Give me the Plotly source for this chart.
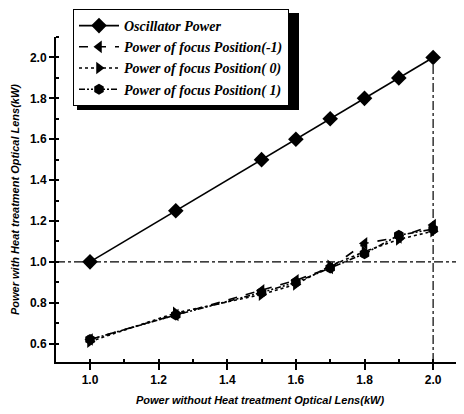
import plotly.graph_objects as go

x_vals = [1.0, 1.25, 1.5, 1.6, 1.7, 1.8, 1.9, 2.0]
oscillator = [1.0, 1.25, 1.5, 1.6, 1.7, 1.8, 1.9, 2.0]
pos_m1 = [0.62, 0.74, 0.86, 0.91, 0.97, 1.09, 1.12, 1.18]
pos_0 = [0.61, 0.75, 0.84, 0.89, 0.98, 1.05, 1.11, 1.15]
pos_p1 = [0.62, 0.74, 0.85, 0.90, 0.97, 1.04, 1.13, 1.16]

names = ["Oscillator Power", "Power of focus Position(-1)",
         "Power of focus Position( 0)", "Power of focus Position( 1)"]
x_ticks = [1.0, 1.2, 1.4, 1.6, 1.8, 2.0]
y_ticks = [0.6, 0.8, 1.0, 1.2, 1.4, 1.6, 1.8, 2.0]

fig = go.Figure()
series = [
    (oscillator, names[0], "solid", "diamond", 12),
    (pos_m1, names[1], "dash", "triangle-left", 11),
    (pos_0, names[2], "dot", "triangle-right", 11),
    (pos_p1, names[3], "6px,2px,2px,2px,2px,2px", "hexagon", 11),
]
for ys, nm, dash, sym, sz in series:
    fig.add_trace(go.Scatter(
        x=x_vals, y=ys, name=nm, mode="lines+markers",
        line=dict(color="black", width=1.6, dash=dash),
        marker=dict(symbol=sym, size=sz, color="black"),
    ))

# figure is placed 8px in from the window corner by the page body margin
W, H = 456, 406
L, R, T, B = 48, 0, 29, 52
pw, ph = W - L - R, H - T - B

def px_x(px):
    return (px - L) / pw

def px_y(py):
    return (H - B - py) / ph

# reference lines
fig.add_shape(type="line", xref="paper", yref="y", x0=0, x1=1, y0=1.0, y1=1.0,
              line=dict(color="black", width=1.2, dash="dashdot"))
fig.add_shape(type="line", xref="x", yref="y", x0=2.0, x1=2.0, y0=0.51, y1=2.0,
              line=dict(color="black", width=1.2, dash="dashdot"))

# legend shadow
leg_x, leg_y = 65, 1
leg_w, leg_h = 222, 97
fig.add_shape(type="rect", xref="paper", yref="paper",
              x0=px_x(leg_x + 4), x1=px_x(leg_x + leg_w + 4),
              y0=px_y(leg_y + leg_h + 4), y1=px_y(leg_y + 4),
              fillcolor="black", line=dict(width=0), layer="above")

tick_font = dict(family="Liberation Sans, Arial", size=12, color="black", weight="bold")
title_font = dict(family="Liberation Sans, Arial", size=11, color="black",
                  weight="bold", style="italic")

fig.update_xaxes(
    range=[0.9009, 2.09], tickvals=x_ticks, ticktext=[f"{v:.1f}" for v in x_ticks],
    ticks="outside", ticklen=6, tickwidth=1.5, tickcolor="black",
    minor=dict(ticks="inside", ticklen=3, tickwidth=1.5, tickcolor="black", dtick=0.1, tick0=0),
    showline=True, linewidth=2, linecolor="black", mirror=False,
    showgrid=False, zeroline=False, tickfont=tick_font, automargin=False,
    title=dict(text="Power without Heat treatment Optical Lens(kW)", font=title_font, standoff=10),
)
fig.update_yaxes(
    range=[0.51, 2.1001], tickvals=y_ticks, ticktext=[f"{v:.1f}" for v in y_ticks],
    ticks="outside", ticklen=5, tickwidth=1.5, tickcolor="black",
    minor=dict(ticks="inside", ticklen=3, tickwidth=1.5, tickcolor="black", dtick=0.1, tick0=0),
    showline=True, linewidth=2, linecolor="black", mirror=False,
    showgrid=False, zeroline=False, tickfont=tick_font, automargin=False,
    title=dict(text="Power with Heat treatment Optical Lens(kW)", font=title_font, standoff=8),
)

fig.update_layout(
    width=W, height=H,
    margin=dict(l=L, r=R, t=T, b=B, autoexpand=False),
    paper_bgcolor="white", plot_bgcolor="white",
    showlegend=True,
    legend=dict(
        x=px_x(leg_x), y=px_y(leg_y), xanchor="left", yanchor="top",
        bgcolor="white", bordercolor="black", borderwidth=1,
        font=dict(family="Liberation Serif, Times New Roman", size=14, color="black",
                  weight="bold", style="italic"),
        itemwidth=40, tracegroupgap=0,
    ),
)

fig.write_html("out.html")
